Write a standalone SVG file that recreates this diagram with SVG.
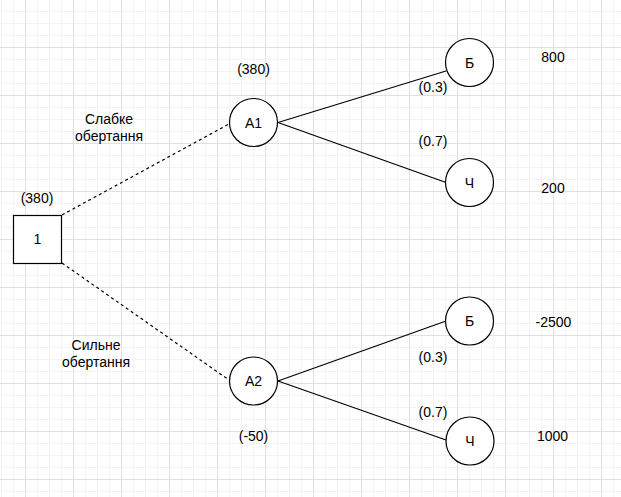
<svg xmlns="http://www.w3.org/2000/svg" width="621" height="497" viewBox="0 0 621 497">
<defs>
<pattern id="grid" patternUnits="userSpaceOnUse" x="-23" y="-1" width="48" height="48">
<rect x="12" y="0" width="1" height="48" fill="#f3f3f3"/>
<rect x="24" y="0" width="1" height="48" fill="#f3f3f3"/>
<rect x="36" y="0" width="1" height="48" fill="#f3f3f3"/>
<rect x="0" y="12" width="48" height="1" fill="#f3f3f3"/>
<rect x="0" y="24" width="48" height="1" fill="#f3f3f3"/>
<rect x="0" y="36" width="48" height="1" fill="#f3f3f3"/>
<rect x="0" y="0" width="1" height="48" fill="#e0e0e0"/>
<rect x="0" y="0" width="48" height="1" fill="#e0e0e0"/>
</pattern>
</defs>
<style>
text{font-family:"Liberation Sans",Arial,sans-serif;font-size:14px;fill:#000;text-anchor:middle}
.node{fill:#fff;stroke:#000;stroke-width:1.2}
.edge{stroke:#000;stroke-width:1.2;fill:none}
.dash{stroke-dasharray:3 3}
</style>
<rect width="621" height="497" fill="#fff"/>
<rect width="621" height="497" fill="url(#grid)"/>
<g id="connectors">
<line class="edge dash" x1="62" y1="215" x2="229" y2="124"/>
<line class="edge dash" x1="62" y1="263" x2="229" y2="380"/>
<line class="edge" x1="278" y1="122.5" x2="446" y2="71"/>
<line class="edge" x1="278" y1="122.5" x2="446" y2="182.5"/>
<line class="edge" x1="278" y1="381" x2="446" y2="321"/>
<line class="edge" x1="278" y1="381" x2="446" y2="440"/>
</g>
<g id="n1">
<rect class="node" x="13.5" y="215.5" width="48" height="48"/>
<text x="37.5" y="244">1</text>
<text x="37" y="203">(380)</text>
</g>
<g id="A1">
<circle class="node" cx="253.5" cy="122.5" r="24"/>
<text x="253.5" y="127.5">А1</text>
<text x="253.5" y="74">(380)</text>
</g>
<g id="A2">
<circle class="node" cx="253.5" cy="381" r="24"/>
<text x="253.5" y="386">А2</text>
<text x="253.5" y="441">(-50)</text>
</g>
<g id="B1">
<circle class="node" cx="469.5" cy="62.5" r="24"/>
<text x="469.5" y="67.5">Б</text>
</g>
<g id="C1">
<circle class="node" cx="469.5" cy="182.5" r="24"/>
<text x="469.5" y="187.5">Ч</text>
</g>
<g id="B2">
<circle class="node" cx="469.5" cy="321" r="24"/>
<text x="469.5" y="326">Б</text>
</g>
<g id="C2">
<circle class="node" cx="470" cy="441" r="24"/>
<text x="470" y="446">Ч</text>
</g>
<g id="labels">
<text x="109" y="124">Слабке</text>
<text x="109" y="141">обертання</text>
<text x="96" y="350">Сильне</text>
<text x="96" y="367">обертання</text>
<text x="433" y="92">(0.3)</text>
<text x="433" y="146">(0.7)</text>
<text x="433" y="362">(0.3)</text>
<text x="433" y="417">(0.7)</text>
<text x="553" y="62">800</text>
<text x="553" y="193">200</text>
<text x="553.5" y="327">-2500</text>
<text x="552.5" y="441">1000</text>
</g>
</svg>
